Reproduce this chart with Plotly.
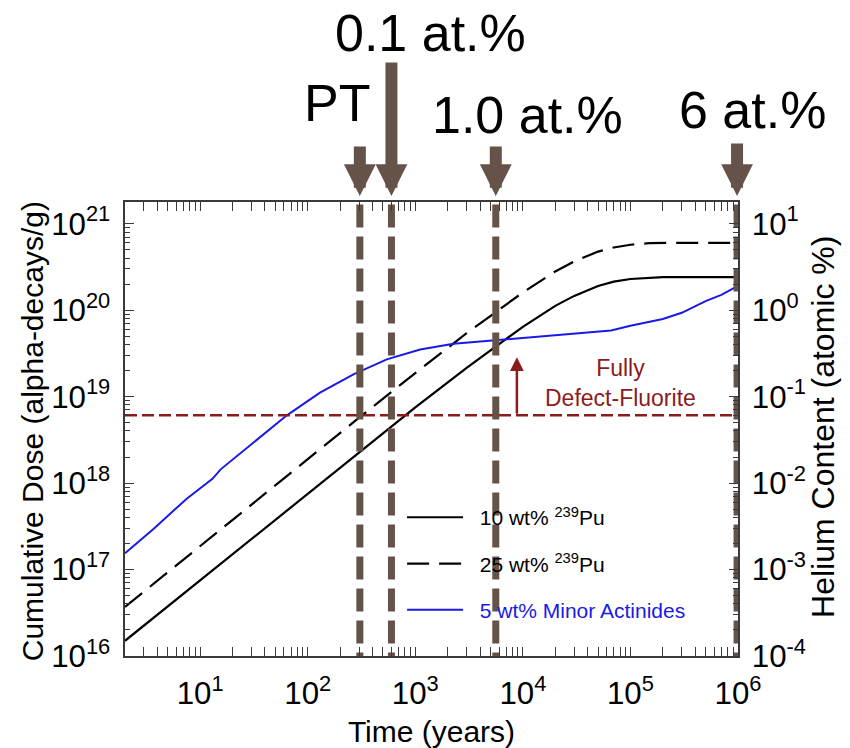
import math
import plotly.graph_objects as go

# ---- data -------------------------------------------------------------
# time after fabrication (years)
time_pu = [2, 5, 10, 30, 100, 300, 1000, 3000, 10000, 20000, 30000, 50000,
           70000, 100000, 150000, 200000, 300000, 500000, 1000000]
# cumulative alpha dose (alpha-decays/g)
dose_pu10 = [1.5e16, 3.75e16, 7.5e16, 2.25e17, 7.6e17, 2.3e18, 7.5e18, 2.15e19,
             6.4e19, 1.12e20, 1.46e20, 1.9e20, 2.13e20, 2.29e20, 2.38e20, 2.4e20,
             2.4e20, 2.4e20, 2.4e20]
dose_pu25 = [3.7e16, 9.3e16, 1.88e17, 5.6e17, 1.9e18, 5.7e18, 1.87e19, 5.4e19,
             1.6e20, 2.8e20, 3.65e20, 4.75e20, 5.3e20, 5.7e20, 5.95e20, 6.0e20,
             6.0e20, 6.0e20, 6.0e20]

time_ma = [2, 3.7, 7.5, 13, 15.5, 31, 64, 130, 266, 543, 1110, 2265, 5740,
           10000, 22400, 66000, 100000, 200000, 300000, 500000, 700000, 1000000]
dose_ma = [1.54e17, 2.97e17, 6.6e17, 1.12e18, 1.44e18, 2.93e18, 6.07e18, 1.11e19,
           1.81e19, 2.69e19, 3.51e19, 4.08e19, 4.5e19, 4.8e19, 5.14e19, 5.8e19,
           6.6e19, 7.9e19, 9.3e19, 1.27e20, 1.5e20, 1.9e20]

series_names = ["\u00a0\u00a010 wt% <sup>239</sup>Pu",
                "\u00a0\u00a025 wt% <sup>239</sup>Pu",
                "\u00a0\u00a0<span style='color:#1a1ae6'>5 wt% Minor Actinides</span>"]

# dose threshold for full conversion to defect-fluorite
fluorite_dose = 6.1e18
fluorite_label = "Fully<br>Defect-Fluorite"
fluorite_arrow_time = 8800
fluorite_arrow_tip = 2.84e19

# helium-content milestones (years) and their labels
marker_years = [305, 600, 5600, 980000]
marker_labels = ["PT", "0.1 at.%", "1.0 at.%", "6 at.%"]

# axis titles
x_title = "Time (years)"
y_title = "Cumulative Dose (alpha-decays/g)"
y2_title = "Helium Content (atomic %)"

# tick label replacements (keep the 10^n form for 10^0 and 10^1)
x_alias = {"10": "10<sup>1</sup>"}
he_alias = {"1": "10<sup>0</sup>", "10": "10<sup>1</sup>",
            "10<sup>\u22121</sup>": "10<sup>-1</sup>",
            "10<sup>\u22122</sup>": "10<sup>-2</sup>",
            "10<sup>\u22123</sup>": "10<sup>-3</sup>",
            "10<sup>\u22124</sup>": "10<sup>-4</sup>"}

# ---- style ------------------------------------------------------------
FONT = "Liberation Sans, Arial, Helvetica, sans-serif"
BROWN = "#65534a"
DARKRED = "#8b1c1c"
BLUE = "#1a1ae6"
AXIS = "#3a3a3a"

X_RANGE = [math.log10(2), 6]
Y_RANGE = [16, 21.25]
Y2_RANGE = [-4, 1.25]

fig = go.Figure()

fig.add_trace(go.Scatter(x=time_pu, y=dose_pu10, mode="lines", name=series_names[0],
                         line=dict(color="black", width=2.2), legendgroup="a"))
fig.add_trace(go.Scatter(x=time_pu, y=dose_pu25, mode="lines", name=series_names[1],
                         line=dict(color="black", width=2.2, dash="22px,10px"),
                         legendgroup="b"))
fig.add_trace(go.Scatter(x=time_ma, y=dose_ma, mode="lines", name=series_names[2],
                         line=dict(color=BLUE, width=2), legendgroup="c"))

# defect-fluorite threshold
fig.add_trace(go.Scatter(x=[10 ** X_RANGE[0], 10.0 ** X_RANGE[1]],
                         y=[fluorite_dose, fluorite_dose], mode="lines",
                         line=dict(color=DARKRED, width=2.5, dash="12px,5px"),
                         showlegend=False, hoverinfo="skip"))

# milestone lines, drawn against the helium-content axis (full height)
for yr in marker_years:
    fig.add_trace(go.Scatter(x=[yr, yr], y=[10 ** 1.22, 10.0 ** Y2_RANGE[0]],
                             yaxis="y2", mode="lines",
                             line=dict(color=BROWN, width=7, dash="23px,9px"),
                             showlegend=False, hoverinfo="skip"))

annotations = []
# milestone arrows above the frame
tail_lengths = [51, 135, 51, 54]
for yr, tail in zip(marker_years, tail_lengths):
    annotations.append(dict(x=math.log10(yr), y=1.013, xref="x", yref="paper",
                            ax=0, ay=-tail, text="", showarrow=True,
                            arrowhead=2, arrowsize=0.53, arrowwidth=12,
                            arrowcolor=BROWN))
label_pos = [(0.3458, 1.218), (0.4976, 1.372), (0.657, 1.1916), (1.023, 1.2026)]
for lab, (px, py) in zip(marker_labels, label_pos):
    annotations.append(dict(x=px, y=py, xref="paper", yref="paper", text=lab,
                            showarrow=False, xanchor="center", yanchor="middle",
                            font=dict(family=FONT, size=52, color="black")))

# threshold arrow and label
annotations.append(dict(x=math.log10(fluorite_arrow_time), y=math.log10(fluorite_arrow_tip),
                        xref="x", yref="y", ax=math.log10(fluorite_arrow_time),
                        ay=math.log10(fluorite_dose), axref="x", ayref="y",
                        text="", showarrow=True, arrowhead=2, arrowsize=1.1,
                        arrowwidth=2.5, arrowcolor=DARKRED))
annotations.append(dict(x=0.809, y=0.601, xref="paper", yref="paper",
                        xanchor="center", yanchor="middle",
                        text=fluorite_label, showarrow=False,
                        font=dict(family=FONT, size=23, color=DARKRED)))

# vertical axis titles
annotations.append(dict(x=-0.1517, y=0.495, xref="paper", yref="paper",
                        xanchor="center", yanchor="middle", textangle=-90,
                        text=y_title, showarrow=False,
                        font=dict(family=FONT, size=30, color="black")))
annotations.append(dict(x=1.139, y=0.505, xref="paper", yref="paper",
                        xanchor="center", yanchor="middle", textangle=-90,
                        text=y2_title, showarrow=False,
                        font=dict(family=FONT, size=32, color="black")))

common_axis = dict(type="log", showline=True, linecolor=AXIS, linewidth=1.5,
                   ticks="inside", tickcolor=AXIS, tickwidth=1.2, ticklen=9,
                   showgrid=False, zeroline=False, tickmode="linear", tick0=0,
                   dtick=1, exponentformat="power", automargin=False,
                   minor=dict(ticks="inside", ticklen=5, tickcolor=AXIS,
                              tickwidth=1.2, dtick="D1", showgrid=False),
                   tickfont=dict(family=FONT, size=25, color="black"))

fig.update_layout(
    width=850, height=748,
    margin=dict(l=125, r=112, t=202, b=92, autoexpand=False),
    paper_bgcolor="white", plot_bgcolor="white",
    font=dict(family=FONT, color="black"),
    showlegend=True,
    legend=dict(x=0.452, y=0.35, xanchor="left", yanchor="top",
                bgcolor="rgba(0,0,0,0)", borderwidth=0, tracegroupgap=16,
                itemwidth=56, font=dict(family=FONT, size=21, color="black")),
    xaxis=dict(range=X_RANGE, mirror="allticks", ticklabelstandoff=10,
               labelalias=x_alias,
               title=dict(text=x_title, standoff=14,
                          font=dict(family=FONT, size=30, color="black")),
               **common_axis),
    yaxis=dict(range=Y_RANGE, mirror=False, ticklabelstandoff=8, **common_axis),
    yaxis2=dict(range=Y2_RANGE, overlaying="y", side="right", anchor="x",
                ticklabelstandoff=7, labelalias=he_alias, **common_axis),
    annotations=annotations,
)

fig.write_html("out.html")
